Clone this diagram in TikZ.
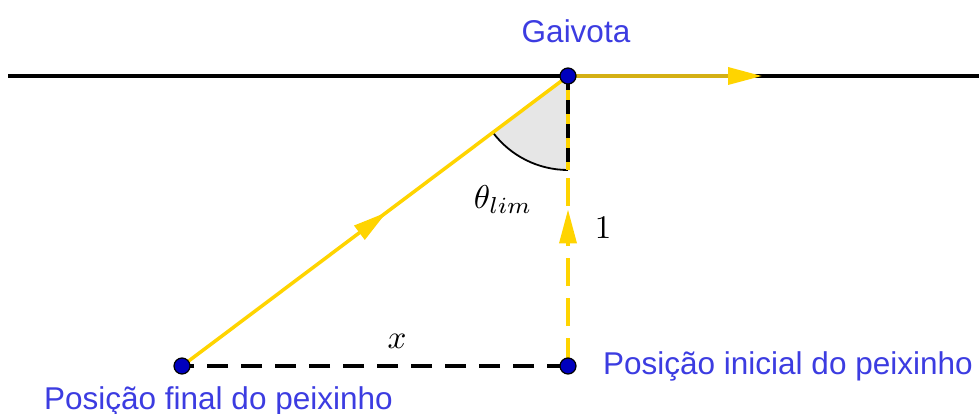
\documentclass[tikz,border=0pt]{standalone}
\usepackage{fontspec}
\setsansfont{Liberation Sans}
\usetikzlibrary{arrows.meta,decorations.markings}
\definecolor{lblblue}{RGB}{60,60,225}
\definecolor{dotblue}{RGB}{0,0,190}
\definecolor{fishyel}{RGB}{255,212,0}
\definecolor{darkyel}{RGB}{212,176,20}
\definecolor{sectgray}{RGB}{230,230,230}
\tikzset{
  lbl/.style={text=lblblue,font=\sffamily\fontsize{31.5}{36}\selectfont,inner sep=0pt},
  mlbl/.style={font=\fontsize{10}{12}\selectfont,inner sep=0pt,scale=3.3},
  dot/.style={circle,fill=dotblue,draw=black,line width=1.2pt,minimum size=16pt,inner sep=0pt},
  yline/.style={draw=fishyel,line width=3.5pt},
  midarrow/.style={postaction={decorate},decoration={markings,
     mark=at position #1 with {\arrow[fishyel]{Triangle[length=34pt,width=17pt]}}}}
}
\begin{document}
\begin{tikzpicture}[x=1pt,y=-1pt]
\useasboundingbox (0,0) rectangle (979,414);
\coordinate (L) at (8,76);
\coordinate (R) at (979,76);
\coordinate (G) at (568,76);
\coordinate (I) at (568,366);
\coordinate (F) at (182,366);
\coordinate (A) at (568,170);
\coordinate (E) at (762,76);
% horizontal line
\draw[line width=3.5pt,black] (L) -- (R);
% angle sector
\fill[sectgray] (G) -- (A) arc[start angle=90,delta angle=53.08,radius=94] -- cycle;
\draw[line width=1.8pt,black] (A) arc[start angle=90,delta angle=53.08,radius=94];
% black dashed base
\draw[line width=3.5pt,black,dash pattern=on 21pt off 13pt] (I) -- (F);
% vertical yellow dashed
\draw[yline,dash pattern=on 28pt off 12pt,midarrow=0.54] (I) -- (G);
\draw[yline] (A) -- (G);
\draw[line width=3.5pt,black,dash pattern=on 14pt off 10pt] (G) -- (A);
% slanted yellow
\draw[yline,midarrow=0.53] (F) -- (G);
% velocity of gull
\draw[draw=darkyel,line width=3.5pt,-{Triangle[length=34pt,width=17pt,color=fishyel]}] (G) -- (E);
% dots
\node[dot] (g) at (G) {};
\node[dot] (i) at (I) {};
\node[dot] (f) at (F) {};
% labels
\node[lbl] (tg) at (576,31) {Gaivota};
\node[lbl,anchor=west] (ti) at (603,366) {Posição inicial do peixinho};
\node[lbl,anchor=west] (tf) at (44,401) {Posição final do peixinho};
\node[mlbl] (th) at (503,200) {$\theta_{lim}$};
\node[mlbl] (one) at (603,228) {$1$};
\node[mlbl] (xl) at (397,341) {$x$};
\end{tikzpicture}
\end{document}
